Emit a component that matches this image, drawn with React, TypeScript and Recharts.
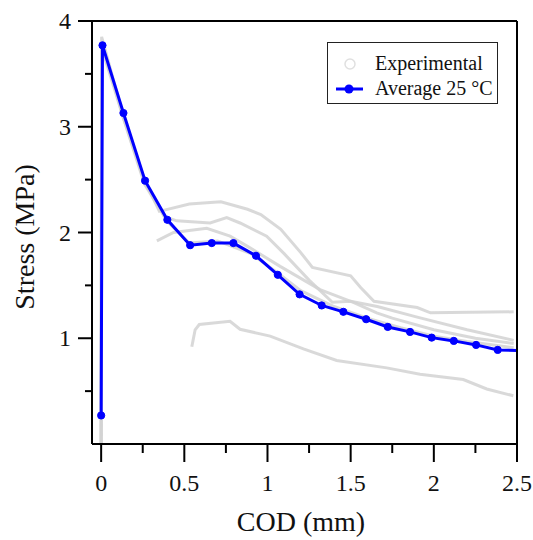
import { LineChart, Line, XAxis, YAxis, ReferenceLine, Legend, Label } from 'recharts';

// average curve (markers)
const avgX = [0, 0.008, 0.134, 0.264, 0.398, 0.535, 0.665, 0.795, 0.931, 1.062, 1.193, 1.326, 1.456, 1.593, 1.723, 1.857, 1.987, 2.12, 2.254, 2.384, 2.5];
const avgY = [0.27, 3.77, 3.13, 2.49, 2.12, 1.88, 1.9, 1.9, 1.78, 1.6, 1.415, 1.31, 1.25, 1.18, 1.107, 1.06, 1.006, 0.975, 0.937, 0.89, 0.885];

// experimental specimens
const exp1X = [0, 0.003, 0.13, 0.26, 0.35, 0.53, 0.72, 0.88, 0.96, 1.08, 1.2, 1.27, 1.5, 1.56, 1.64, 1.9, 1.98, 2.48];
const exp1Y = [0, 3.85, 3.12, 2.5, 2.2, 2.27, 2.29, 2.22, 2.17, 2.03, 1.81, 1.67, 1.59, 1.48, 1.35, 1.29, 1.24, 1.25];
const exp2X = [0, 0.003, 0.13, 0.26, 0.38, 0.455, 0.655, 0.755, 0.835, 0.995, 1.1, 1.25, 1.39, 1.5, 1.66, 1.9, 2.2, 2.48];
const exp2Y = [0, 3.8, 3.1, 2.48, 2.15, 2.11, 2.09, 2.14, 2.09, 1.965, 1.8, 1.55, 1.34, 1.35, 1.3, 1.2, 1.08, 0.98];
const exp3X = [0.335, 0.435, 0.635, 0.775, 0.895, 1.076, 1.316, 1.516, 1.657, 1.75, 2.0, 2.25, 2.48];
const exp3Y = [1.92, 2.0, 2.04, 1.965, 1.855, 1.68, 1.46, 1.34, 1.24, 1.19, 1.08, 1.0, 0.95];
const exp4X = [0, 0.003, 0.13, 0.26, 0.4, 0.53, 0.7, 0.9, 1.06, 1.2, 1.4, 1.6, 1.8, 2.0, 2.2, 2.48];
const exp4Y = [0, 3.75, 3.1, 2.46, 2.1, 1.9, 1.92, 1.8, 1.62, 1.45, 1.3, 1.19, 1.1, 1.02, 0.97, 0.91];
const exp5X = [0.545, 0.565, 0.59, 0.775, 0.835, 1.016, 1.216, 1.416, 1.717, 1.917, 2.177, 2.318, 2.478];
const exp5Y = [0.92, 1.08, 1.13, 1.16, 1.085, 1.02, 0.9, 0.79, 0.72, 0.66, 0.61, 0.52, 0.456];

const xTicks = [0, 0.25, 0.5, 0.75, 1, 1.25, 1.5, 1.75, 2, 2.25, 2.5];
const yTicks = [0.5, 1, 1.5, 2, 2.5, 3, 3.5, 4];

const zip = (xs: number[], ys: number[]) => xs.map((x, i) => ({ x, y: ys[i] }));
const avgData = zip(avgX, avgY);
const expSets = [zip(exp1X, exp1Y), zip(exp2X, exp2Y), zip(exp3X, exp3Y), zip(exp4X, exp4Y), zip(exp5X, exp5Y)];

const FONT = '"Liberation Serif", "Times New Roman", serif';
// 0, 0.5, 1 ... get a label; quarter steps are minor
const isMajor = (v: number) => Math.abs(v * 2 - Math.round(v * 2)) < 1e-6;

const XTick = ({ x, y, payload }: any) => {
  const major = isMajor(payload.value);
  return (
    <g>
      <line x1={x} x2={x} y1={y} y2={y + (major ? 18 : 9)} stroke="#000" strokeWidth={2} />
      {major && (
        <text x={x} y={y + 47} textAnchor="middle" fontSize={24} fontFamily={FONT} fill="#111">
          {String(payload.value)}
        </text>
      )}
    </g>
  );
};

const YTick = ({ x, y, payload }: any) => {
  const major = Number.isInteger(payload.value);
  return (
    <g>
      <line x1={x - (major ? 14 : 7)} x2={x} y1={y} y2={y} stroke="#000" strokeWidth={2} />
      {major && (
        <text x={x - 21} y={y + 8} textAnchor="end" fontSize={24} fontFamily={FONT} fill="#111">
          {String(payload.value)}
        </text>
      )}
    </g>
  );
};

const LegendBox = () => (
  <div style={{ width: 169, height: 60, border: '1.5px solid #222', background: '#fff', fontFamily: FONT, fontSize: 20, color: '#111', position: 'relative' }}>
    <svg width={40} height={60} style={{ position: 'absolute', left: 0, top: 0 }}>
      <circle cx={22} cy={21} r={5} fill="none" stroke="#e0e0e0" strokeWidth={1.5} />
      <line x1={8} x2={35} y1={46} y2={46} stroke="#0000ff" strokeWidth={3} />
      <circle cx={21} cy={46} r={4.5} fill="#0000ff" />
    </svg>
    <div style={{ position: 'absolute', left: 47, top: 8, lineHeight: '24px' }}>Experimental</div>
    <div style={{ position: 'absolute', left: 47, top: 33, lineHeight: '24px' }}>Average 25 °C</div>
  </div>
);

const lastIdx = avgData.length - 1;
const AvgDot = (props: any) => {
  if (props.index === lastIdx) return <g key={props.index} />;
  return <circle key={props.index} cx={props.cx} cy={props.cy} r={3.6} fill="#0000ff" stroke="#0000ff" />;
};

const renderYTitle = () => (
  <text x={34} y={237} transform="rotate(-90, 34, 237)" textAnchor="middle" fontSize={28} fontFamily={FONT} fill="#111">
    Stress (MPa)
  </text>
);

const renderXTitle = () => (
  <text x={301} y={531} textAnchor="middle" fontSize={28} fontFamily={FONT} fill="#111">
    COD (mm)
  </text>
);

export default function App() {
  return (
    <div style={{ position: 'absolute', left: 0, top: 0, width: 533, height: 540, background: '#fff' }}>
      <LineChart width={533} height={540} margin={{ top: 21, right: 16, bottom: 0, left: 0 }}>
        <XAxis
          type="number"
          dataKey="x"
          domain={[-0.055, 2.5]}
          ticks={xTicks}
          allowDataOverflow
          height={96}
          tickSize={0}
          tickMargin={0}
          tickLine={false}
          axisLine={{ stroke: '#000', strokeWidth: 2 }}
          tick={<XTick />}
          interval={0}
        >
          <Label content={renderXTitle} />
        </XAxis>
        <YAxis
          type="number"
          dataKey="y"
          domain={[0, 4]}
          ticks={yTicks}
          allowDataOverflow
          width={92}
          tickSize={0}
          tickMargin={0}
          tickLine={false}
          axisLine={{ stroke: '#000', strokeWidth: 2 }}
          tick={<YTick />}
          interval={0}
        >
          <Label content={renderYTitle} />
        </YAxis>
        {expSets.map((d, i) => (
          <Line
            key={'exp' + i}
            data={d}
            dataKey="y"
            type="linear"
            stroke="#d2d2d2"
            strokeOpacity={0.85}
            strokeWidth={3}
            dot={false}
            activeDot={false}
            isAnimationActive={false}
            legendType="none"
          />
        ))}
        <Line
          data={avgData}
          dataKey="y"
          type="linear"
          stroke="#0000ff"
          strokeWidth={3}
          dot={AvgDot}
          activeDot={false}
          isAnimationActive={false}
        />
        <ReferenceLine y={4} stroke="#000" strokeWidth={2} />
        <ReferenceLine x={2.5} stroke="#000" strokeWidth={2} />
        <Legend
          layout="horizontal"
          align="center"
          verticalAlign="middle"
          content={<LegendBox />}
          wrapperStyle={{ top: 42, left: 327, width: 172, height: 63 }}
        />
      </LineChart>
    </div>
  );
}
